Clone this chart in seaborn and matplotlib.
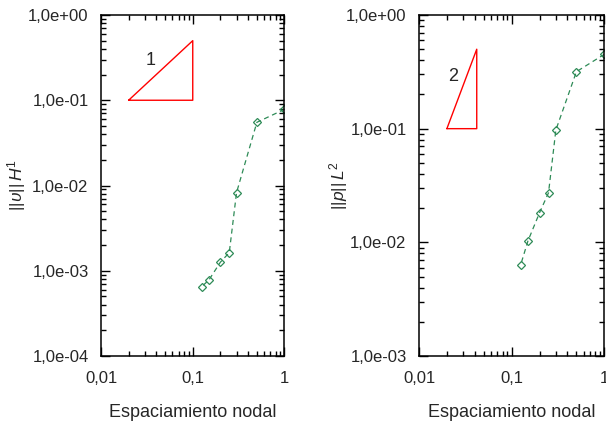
import matplotlib
matplotlib.use("Agg")
import matplotlib.pyplot as plt
import seaborn as sns
import pandas as pd

# ---- data ----
h_vals = [1.0, 0.5, 0.3, 0.25, 0.2, 0.15, 0.125]
err_u_H1 = [0.0783, 0.0551, 0.00824, 0.00163, 0.00126, 0.000779, 0.00065]
err_p_L2 = [0.451, 0.317, 0.0973, 0.0273, 0.0182, 0.0103, 0.00632]

tri1_x = [0.02, 0.1, 0.1, 0.02]
tri1_y = [0.1, 0.1, 0.5, 0.1]
tri2_x = [0.02, 0.042, 0.042, 0.02]
tri2_y = [0.1, 0.1, 0.5, 0.1]
tri1_label = "1"
tri2_label = "2"
tri1_label_pos = (0.0347, 0.296)
tri2_label_pos = (0.0232, 0.29)

xticks = [0.01, 0.1, 1]
xticklabels = ["0,01", "0,1", "1"]
yticks_left = [1e-4, 1e-3, 1e-2, 1e-1, 1e0]
yticklabels_left = ["1,0e-04", "1,0e-03", "1,0e-02", "1,0e-01", "1,0e+00"]
yticks_right = [1e-3, 1e-2, 1e-1, 1e0]
yticklabels_right = ["1,0e-03", "1,0e-02", "1,0e-01", "1,0e+00"]

xlabel = "Espaciamiento nodal"
ylabel_left = r"$||\upsilon||\,H^1$"
ylabel_right = r"$||p||\,L^2$"

df = pd.DataFrame({"h": h_vals, "u": err_u_H1, "p": err_p_L2})

# ---- style ----
sns.set_style("ticks")
plt.rcParams["font.family"] = ["Liberation Sans", "DejaVu Sans"]
plt.rcParams["mathtext.fontset"] = "custom"
plt.rcParams["mathtext.rm"] = "Liberation Sans"
plt.rcParams["mathtext.it"] = "Liberation Sans:italic"
plt.rcParams["mathtext.cal"] = "Liberation Sans"

GREEN = "#2e8b57"
W, H = 606, 425

fig = plt.figure(figsize=(W / 100, H / 100), dpi=100)
ax1 = fig.add_axes([101 / W, 69 / H, 183.5 / W, 341 / H])
ax2 = fig.add_axes([419 / W, 69 / H, 185.3 / W, 341 / H])

panels = [
    (ax1, "u", tri1_x, tri1_y, tri1_label, tri1_label_pos, yticks_left, yticklabels_left,
     (1e-4, 1e0), ylabel_left, -0.40),
    (ax2, "p", tri2_x, tri2_y, tri2_label, tri2_label_pos, yticks_right, yticklabels_right,
     (1e-3, 1e0), ylabel_right, -0.37),
]

for ax, col, tx, ty, tl, tpos, yt, ytl, ylim, ylab, lx in panels:
    sns.lineplot(data=df, x="h", y=col, ax=ax, color=GREEN, marker="D",
                 markersize=4.2, markerfacecolor="none", markeredgecolor=GREEN,
                 markeredgewidth=0.9, linewidth=0.9, linestyle=(0, (4, 3)),
                 estimator=None, sort=False)
    ax.plot(tx, ty, color="red", linewidth=1.0)
    ax.text(tpos[0], tpos[1], tl, fontsize=13, ha="center", va="center")
    ax.set_xscale("log")
    ax.set_yscale("log")
    ax.set_xlim(0.01, 1)
    ax.set_ylim(*ylim)
    ax.set_xticks(xticks)
    ax.set_xticklabels(xticklabels)
    ax.set_yticks(yt)
    ax.set_yticklabels(ytl)
    ax.tick_params(which="both", direction="in", top=True, right=True,
                   labelsize=12, width=1.0, color="black")
    ax.tick_params(axis="y", which="both", pad=9)
    ax.tick_params(axis="x", which="both", pad=11)
    ax.tick_params(which="major", length=6.5)
    ax.tick_params(which="minor", length=3.8)
    for s in ax.spines.values():
        s.set_linewidth(1.1)
        s.set_color("black")
        s.set_visible(True)
    ax.set_xlabel(xlabel, fontsize=13, labelpad=13)
    ax.set_ylabel(ylab, fontsize=12.5)
    ax.yaxis.set_label_coords(lx, 0.5)

fig.savefig("out.png", dpi=100)
